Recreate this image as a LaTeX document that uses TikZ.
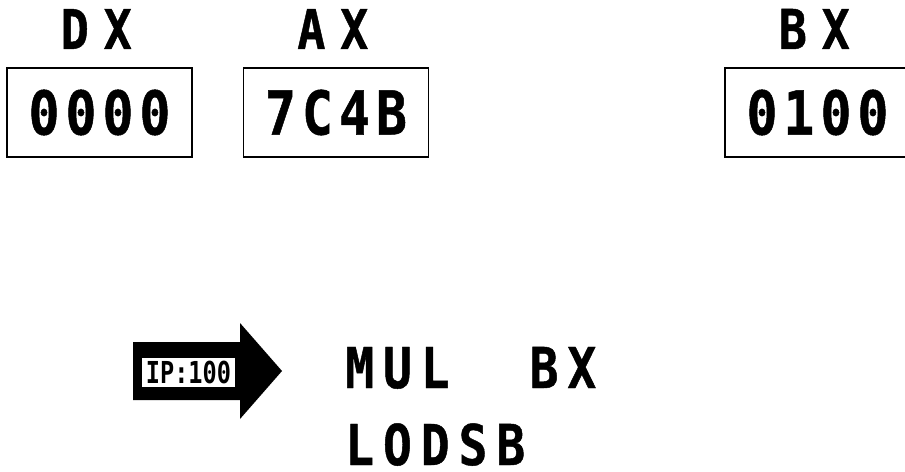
\documentclass[tikz,border=0pt]{standalone}
\usepackage{fontspec}
\usepackage{tikz}
\usetikzlibrary{positioning}
\newfontfamily\namefont[FakeStretch=0.85,LetterSpace=27,FakeBold=0.8]{DejaVu Sans Mono}
\newfontfamily\digfont[FakeStretch=0.85,LetterSpace=10,FakeBold=0.8]{DejaVu Sans Mono}
\newfontfamily\codefont[FakeStretch=0.85,LetterSpace=16,FakeBold=0.8]{DejaVu Sans Mono}
\newfontfamily\ipfont[FakeStretch=0.78]{DejaVu Sans Mono}
\tikzset{
  % register box and its name
  reg/.style     = {rectangle, draw=black, line width=1pt, minimum width=4.625cm,
                    minimum height=2.225cm, inner sep=0pt,
                    font=\digfont\bfseries\fontsize{43}{43}\selectfont},
  regname/.style = {inner sep=0pt, font=\namefont\bfseries\fontsize{39}{39}\selectfont},
  code/.style    = {inner sep=0pt, font=\codefont\bfseries\fontsize{40}{40}\selectfont},
  iplbl/.style   = {rectangle, fill=white, inner sep=0pt, minimum width=2.325cm,
                    minimum height=0.725cm, font=\ipfont\bfseries\fontsize{21.5}{21.5}\selectfont},
}
\begin{document}
\begin{tikzpicture}[x=0.025cm,y=-0.025cm]
\clip (0,0) rectangle (905,472);
\fill[white] (0,0) rectangle (905,472);
% registers
\node[reg] (dxbox) at (99.5,112.5) {0000};
\node[reg] (axbox) at (336,112.5) {7C4B};
\node[reg] (bxbox) at (817.5,112.5) {0100};
\node[regname, above=0.45cm of dxbox, xshift=-0.08cm] (dxname) {DX};
\node[regname, above=0.45cm of axbox, xshift=-0.08cm] (axname) {AX};
\node[regname, above=0.45cm of bxbox, xshift=-0.08cm] (bxname) {BX};
% instruction pointer
\fill[black] (133,342) -- (240,342) -- (240,323) -- (282,371) -- (240,419)
  -- (240,400) -- (133,400) -- cycle;
\node[iplbl] (ip) at (188.5,372.5) {IP:100};
% instructions
\node[code, anchor=base west] (mul) at (345,388) {MUL\hspace{2cm}BX};
\node[code, anchor=base west] (lodsb) at (345,465) {LODSB};
\end{tikzpicture}
\end{document}
